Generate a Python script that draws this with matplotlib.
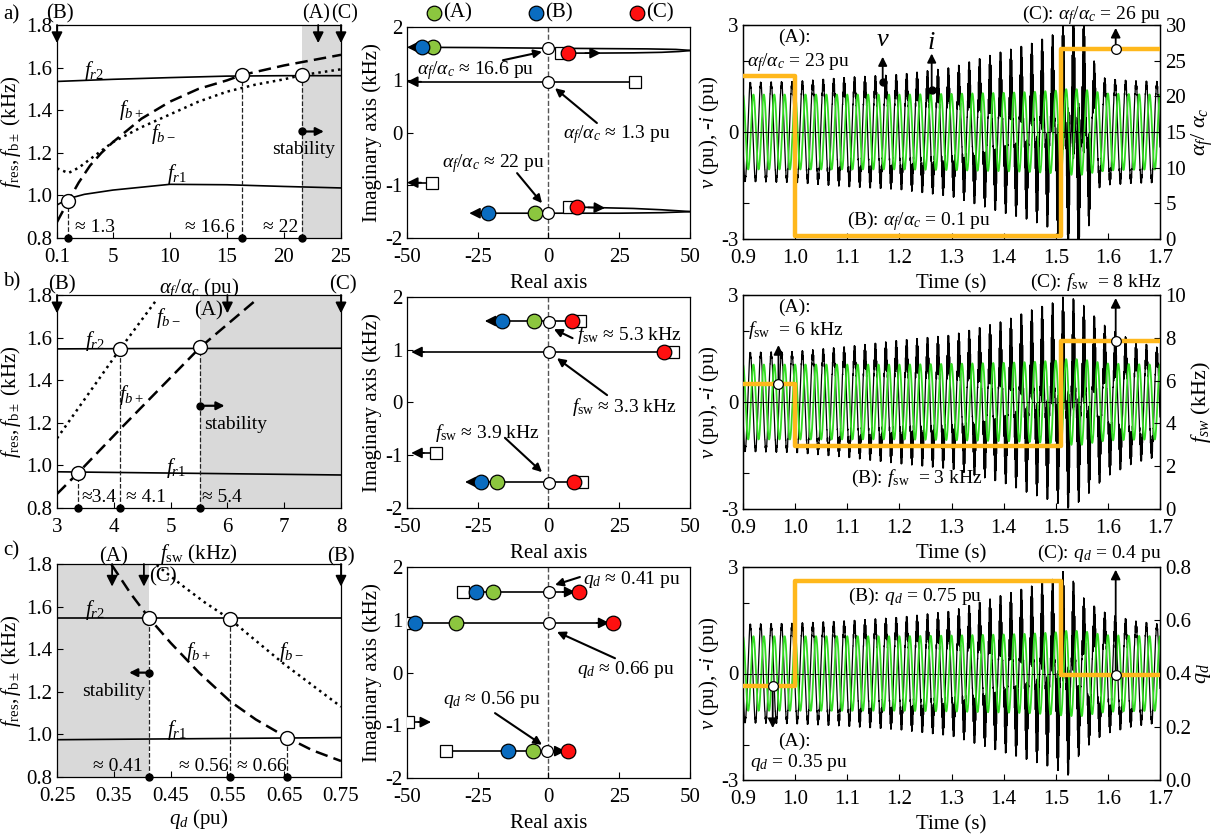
import numpy as np
import matplotlib
matplotlib.use('Agg')
import matplotlib.pyplot as plt

# 字体: Times 风格
plt.rcParams['font.family'] = ['Liberation Serif', 'DejaVu Serif']
plt.rcParams['mathtext.fontset'] = 'custom'
plt.rcParams['mathtext.rm'] = 'Liberation Serif'
plt.rcParams['mathtext.it'] = 'Liberation Serif:italic'
plt.rcParams['mathtext.bf'] = 'Liberation Serif:bold'
plt.rcParams['axes.unicode_minus'] = False
plt.rcParams['font.size'] = 14
plt.rcParams['xtick.direction'] = 'in'
plt.rcParams['ytick.direction'] = 'in'
plt.rcParams['axes.linewidth'] = 0.9

W, H = 1231, 836
GREEN = '#8cc63f'
BLUE = '#0a6cc0'
RED = '#ff1010'
ORANGE = '#ffb81c'
WAVE_GREEN = '#33dd22'
SHADE = '#d9d9d9'

# ================= 左列数据 =================
# a) alpha_f / alpha_c
a_fr2_x = [0.1, 5, 10, 15, 20, 25]
a_fr2_y = [1.535, 1.545, 1.553, 1.56, 1.562, 1.562]
a_fr1_x = [0.1, 1.1, 2.5, 5, 10, 15, 20, 25]
a_fr1_y = [0.955, 0.985, 1.005, 1.025, 1.052, 1.05, 1.042, 1.035]
a_fbp_x = [0.1, 1.1, 2, 3, 4, 5, 7.5, 10, 12.5, 15, 16.3, 20, 25]
a_fbp_y = [0.875, 0.975, 1.06, 1.14, 1.2, 1.25, 1.36, 1.44, 1.5, 1.54, 1.565, 1.61, 1.66]
a_fbm_x = [0.1, 1.1, 2, 3, 4, 5, 7.5, 10, 12.5, 15, 17.5, 20, 21.6, 25]
a_fbm_y = [1.127, 1.105, 1.13, 1.17, 1.21, 1.25, 1.32, 1.38, 1.44, 1.487, 1.52, 1.545, 1.565, 1.592]
a_cross_x = [1.1, 16.3, 21.6]
a_cross_y = [0.975, 1.565, 1.567]
a_cross_txt = ['≈ 1.3', '≈ 16.6', '≈ 22']
a_cross_txt_x = [1.7, 11.3, 18.2]
a_xticks = [0.1, 5, 10, 15, 20, 25]
a_xticklabels = ['0.1', '5', '10', '15', '20', '25']

# b) f_sw
b_fr2_x = [3, 5, 8]
b_fr2_y = [1.547, 1.549, 1.55]
b_fr1_x = [3, 5, 8]
b_fr1_y = [0.97, 0.964, 0.955]
b_fbp_x = [3, 3.375, 4.11, 5.52, 6.52]
b_fbp_y = [0.866, 0.966, 1.17, 1.554, 1.78]
b_fbm_x = [3, 4.11, 4.76]
b_fbm_y = [1.127, 1.546, 1.78]
b_cross_x = [3.375, 4.11, 5.52]
b_cross_y = [0.966, 1.546, 1.554]
b_cross_txt = ['≈3.4', '≈ 4.1', '≈ 5.4']
b_cross_txt_x = [3.43, 4.21, 5.55]
b_xticks = [3, 4, 5, 6, 7, 8]
b_xticklabels = ['3', '4', '5', '6', '7', '8']

# c) q_d
c_fr2_x = [0.25, 0.5, 0.75]
c_fr2_y = [1.548, 1.548, 1.548]
c_fr1_x = [0.25, 0.5, 0.75]
c_fr1_y = [0.975, 0.98, 0.985]
c_fbp_x = [0.346, 0.38, 0.4125, 0.45, 0.5, 0.555, 0.6, 0.655, 0.7, 0.75]
c_fbp_y = [1.797, 1.66, 1.545, 1.43, 1.29, 1.155, 1.07, 0.985, 0.925, 0.875]
c_fbm_x = [0.4255, 0.47, 0.51, 0.555, 0.6, 0.65, 0.7, 0.75]
c_fbm_y = [1.795, 1.70, 1.62, 1.54, 1.44, 1.33, 1.23, 1.13]
c_cross_x = [0.4125, 0.555, 0.655]
c_cross_y = [1.545, 1.54, 0.985]
c_cross_txt = ['≈ 0.41', '≈ 0.56', '≈ 0.66']
c_cross_txt_x = [0.314, 0.464, 0.567]
c_xticks = [0.25, 0.35, 0.45, 0.55, 0.65, 0.75]
c_xticklabels = ['0.25', '0.35', '0.45', '0.55', '0.65', '0.75']

# ================= 中列根轨迹数据 =================
# a)
la_lines = [([4.4, 16, 30, 40, 46, 50.5], [1.505, 1.505, 1.51, 1.52, 1.535, 1.555]),
            ([50.5, 45, 35, 20, 0, -25, -46], [1.555, 1.575, 1.585, 1.59, 1.598, 1.61, 1.615]),
            ([30.6, -46], [0.963, 0.963]),
            ([-41.3, -46], [-0.95, -0.95]),
            ([7.4, 18, 30, 40, 50.5], [-1.41, -1.425, -1.44, -1.465, -1.5]),
            ([50.5, 40, 25, 10, 0, -21, -24], [-1.5, -1.52, -1.53, -1.53, -1.53, -1.53, -1.53])]
la_arrows = [(13, 1.505, 18.5, 1.505), (-45, 1.615, -50, 1.615), (-45, 0.963, -50, 0.963),
             (-45, -0.95, -50, -0.95), (14, -1.42, 20, -1.43), (-23, -1.53, -28, -1.53)]
la_sq_x = [4.4, 30.6, -41.3, 7.4]
la_sq_y = [1.505, 0.963, -0.95, -1.41]
la_white_x = [0, 0, 0]
la_white_y = [1.598, 0.963, -1.53]
la_green_x = [-40.8, -4.8]
la_green_y = [1.615, -1.53]
la_blue_x = [-44.8, -21.3]
la_blue_y = [1.615, -1.53]
la_red_x = [7.0, 10.0]
la_red_y = [1.5, -1.41]

# b)
lb_lines = [([11.1, -19], [1.545, 1.545]), ([44, -45], [0.957, 0.957]),
            ([-39.8, -45], [-0.957, -0.957]), ([11.8, -26], [-1.507, -1.507])]
lb_arrows = [(-18, 1.545, -22.5, 1.545), (-44, 0.957, -48.5, 0.957),
             (-44, -0.957, -48.5, -0.957), (-25, -1.507, -29.5, -1.507)]
lb_sq_x = [11.1, 44, -39.8, 11.8]
lb_sq_y = [1.545, 0.957, -0.957, -1.507]
lb_white_x = [0.2, 0.2, 0.2]
lb_white_y = [1.53, 0.957, -1.53]
lb_green_x = [-5.1, -18.2]
lb_green_y = [1.545, -1.507]
lb_blue_x = [-16.4, -23.9]
lb_blue_y = [1.545, -1.507]
lb_red_x = [8.3, 40.8, 9.0]
lb_red_y = [1.545, 0.957, -1.507]

# c)
lc_lines = [([-30.2, 6], [1.526, 1.526]), ([-49.5, 18], [0.94, 0.94]),
            ([-49.5, -45], [-0.94, -0.94]), ([-36.2, 3], [-1.49, -1.49])]
lc_arrows = [(5, 1.526, 9.5, 1.526), (17, 0.94, 21.5, 0.94),
             (-46, -0.94, -41.5, -0.94), (2, -1.49, 6, -1.49)]
lc_sq_x = [-30.2, -49.5, -49.5, -36.2]
lc_sq_y = [1.526, 0.94, -0.94, -1.49]
lc_white_x = [0.2, 0.2, -0.5]
lc_white_y = [1.526, 0.94, -1.49]
lc_green_x = [-19.6, -32.7, -5.5]
lc_green_y = [1.526, 0.94, -1.49]
lc_blue_x = [-25.6, -47.2, -14.3]
lc_blue_y = [1.526, 0.94, -1.49]
lc_red_x = [10.8, 22.8, 6.9]
lc_red_y = [1.526, 0.94, -1.49]

# ================= 右列时域数据 =================
F0 = 50.0          # 基波 (Hz)
FH = 1050.0        # 谐振分量 (Hz)
V1 = 1.35          # 电压基波幅值
ENV_T = [0.9, 1.0, 1.1, 1.2, 1.3, 1.4, 1.45, 1.5, 1.52, 1.55, 1.58, 1.6, 1.65, 1.7]
env_a = [0.05, 0.08, 0.2, 0.28, 0.48, 0.95, 1.15, 1.45, 2.0, 2.2, 0.25, 0.15, 0.1, 0.08]
env_b = [0.05, 0.08, 0.22, 0.4, 0.55, 0.95, 1.25, 1.5, 1.7, 1.45, 1.0, 0.75, 0.38, 0.18]
env_c = [0.05, 0.08, 0.15, 0.25, 0.43, 0.9, 1.13, 1.37, 1.65, 0.85, 0.5, 0.35, 0.15, 0.05]
green_env = [1.05, 1.05, 1.05, 1.05, 1.07, 1.1, 1.12, 1.16, 1.2, 1.2, 1.12, 1.08, 1.06, 1.05]
STEP_T = [0.9, 1.0, 1.51, 1.7]
step_a = [22.8, 0.45, 26.6, 26.6]
step_b = [5.85, 2.95, 7.85, 7.85]
step_c = [0.352, 0.746, 0.396, 0.396]


def px_axes(fig, x0, y0, x1, y1):
    return fig.add_axes([x0 / W, 1 - y1 / H, (x1 - x0) / W, (y1 - y0) / H])


def arrow(ax, x0, y0, x1, y1, lw=1.3, ms=16, transform=None):
    kw = {}
    if transform is not None:
        kw = dict(xycoords=transform, textcoords=transform)
    ax.annotate('', xy=(x1, y1), xytext=(x0, y0),
                arrowprops=dict(arrowstyle='-|>', color='k', lw=lw, mutation_scale=ms,
                                shrinkA=0, shrinkB=0),
                annotation_clip=False, **kw)


# ========= 左列 =========
def draw_left(ax, xlim, xticks, xticklabels, fr1, fr2, fbp, fbm, cx, cy, ctxt, ctxt_x, shade):
    ax.axvspan(shade[0], shade[1], color=SHADE, lw=0, zorder=0)
    ax.plot(fr2[0], fr2[1], 'k-', lw=1.2)
    ax.plot(fr1[0], fr1[1], 'k-', lw=1.2)
    ax.plot(fbp[0], fbp[1], 'k--', lw=1.8, dashes=(5, 2.5))
    ax.plot(fbm[0], fbm[1], 'k:', lw=1.8)
    ax.vlines(cx, 0.8, cy, colors='#222222', linestyles='--', lw=0.9)
    ax.plot(cx, cy, 'o', mfc='white', mec='k', ms=10, mew=1, zorder=5)
    ax.plot(cx, [0.8] * len(cx), 'o', color='k', ms=5, clip_on=False, zorder=6)
    for x, s in zip(ctxt_x, ctxt):
        ax.text(x, 0.848, s, ha='left', va='center', fontsize=14)
    ax.set_xlim(xlim)
    ax.set_ylim(0.8, 1.8)
    ax.set_xticks(xticks)
    ax.set_xticklabels(xticklabels)
    ax.set_yticks([0.8, 1.0, 1.2, 1.4, 1.6, 1.8])
    ax.set_yticklabels(['0.8', '1.0', '1.2', '1.4', '1.6', '1.8'])
    ax.tick_params(labelsize=15, length=4)
    ax.tick_params(axis='x', pad=7)
    ax.set_ylabel(r'$f_{\rm res}, f_{\rm b\pm}$ (kHz)', fontsize=15, labelpad=2)


def top_arrows(ax, xs, tip):
    for x in xs:
        arrow(ax, x, 1.8, x, tip)


fig = plt.figure(figsize=(W / 100, H / 100), dpi=100)

# a)
ax = px_axes(fig, 57, 25, 341, 238)
draw_left(ax, (0.1, 25), a_xticks, a_xticklabels, (a_fr1_x, a_fr1_y), (a_fr2_x, a_fr2_y),
          (a_fbp_x, a_fbp_y), (a_fbm_x, a_fbm_y), a_cross_x, a_cross_y, a_cross_txt, a_cross_txt_x,
          (21.6, 25))
ax.set_xlabel(r'$\alpha_f/\alpha_c$ (pu)', fontsize=15, labelpad=7)
ax.text(3.3, 1.585, r'$f_{r2}$', ha='center', va='center', fontsize=15)
ax.text(6.65, 1.40, r'$f_{b+}$', ha='center', va='center', fontsize=15)
ax.text(9.4, 1.29, r'$f_{b-}$', ha='center', va='center', fontsize=15)
ax.text(10.6, 1.10, r'$f_{r1}$', ha='center', va='center', fontsize=15)
ax.text(21.7, 1.215, 'stability', ha='center', va='center', fontsize=14)
ax.plot(21.6, 1.30, 'o', color='k', ms=5)
arrow(ax, 21.6, 1.30, 23.5, 1.30, lw=1.6, ms=12)
top_arrows(ax, [0.1, 23, 25], 1.715)
ax.text(0.4, 1.85, '(B)', ha='center', va='center', fontsize=15)
ax.text(22.85, 1.85, '(A)', ha='center', va='center', fontsize=14.5)
ax.text(25.35, 1.85, '(C)', ha='center', va='center', fontsize=14.5)

# b)
ax = px_axes(fig, 57, 295, 341, 508)
draw_left(ax, (3, 8), b_xticks, b_xticklabels, (b_fr1_x, b_fr1_y), (b_fr2_x, b_fr2_y),
          (b_fbp_x, b_fbp_y), (b_fbm_x, b_fbm_y), b_cross_x, b_cross_y, b_cross_txt, b_cross_txt_x,
          (5.52, 8))
ax.set_xlabel(r'$f_{\rm sw}$ (kHz)', fontsize=15, labelpad=4)
ax.text(3.67, 1.585, r'$f_{r2}$', ha='center', va='center', fontsize=15)
ax.text(4.96, 1.69, r'$f_{b-}$', ha='center', va='center', fontsize=15)
ax.text(4.31, 1.33, r'$f_{b+}$', ha='center', va='center', fontsize=15)
ax.text(5.1, 0.99, r'$f_{r1}$', ha='center', va='center', fontsize=15)
ax.text(6.15, 1.19, 'stability', ha='center', va='center', fontsize=14)
ax.plot(5.52, 1.28, 'o', color='k', ms=5)
arrow(ax, 5.52, 1.28, 5.95, 1.28, lw=1.6, ms=12)
top_arrows(ax, [3, 6, 8], 1.714)
ax.text(3.08, 1.847, '(B)', ha='center', va='center', fontsize=15)
ax.text(5.66, 1.725, '(A)', ha='center', va='center', fontsize=15)
ax.text(8.04, 1.847, '(C)', ha='center', va='center', fontsize=15)

# c)
ax = px_axes(fig, 57, 564, 341, 777)
draw_left(ax, (0.25, 0.75), c_xticks, c_xticklabels, (c_fr1_x, c_fr1_y), (c_fr2_x, c_fr2_y),
          (c_fbp_x, c_fbp_y), (c_fbm_x, c_fbm_y), c_cross_x, c_cross_y, c_cross_txt, c_cross_txt_x,
          (0.25, 0.4125))
ax.set_xlabel(r'$q_d$ (pu)', fontsize=15, labelpad=1)
ax.text(0.317, 1.585, r'$f_{r2}$', ha='center', va='center', fontsize=15)
ax.text(0.499, 1.388, r'$f_{b+}$', ha='center', va='center', fontsize=15)
ax.text(0.663, 1.388, r'$f_{b-}$', ha='center', va='center', fontsize=15)
ax.text(0.461, 1.02, r'$f_{r1}$', ha='center', va='center', fontsize=15)
ax.text(0.35, 1.2, 'stability', ha='center', va='center', fontsize=14)
ax.plot(0.4125, 1.29, 'o', color='k', ms=5)
arrow(ax, 0.4125, 1.29, 0.377, 1.29, lw=1.6, ms=12)
top_arrows(ax, [0.347, 0.403, 0.75], 1.694)
ax.text(0.349, 1.834, '(A)', ha='center', va='center', fontsize=15)
ax.text(0.437, 1.74, '(C)', ha='center', va='center', fontsize=15)
ax.text(0.75, 1.834, '(B)', ha='center', va='center', fontsize=15)

for lab, yp in [('a)', 15), ('b)', 282), ('c)', 551)]:
    fig.text(3 / W, 1 - yp / H, lab, ha='left', va='center', fontsize=15)


# ========= 中列 =========
def draw_locus(ax, lines, arrows, sq, white, green, blue, red):
    ax.axvline(0, color='#555555', ls='--', lw=1.0, zorder=1)
    for xs, ys in lines:
        ax.plot(xs, ys, 'k-', lw=1.2, zorder=2)
    for x0, y0, x1, y1 in arrows:
        arrow(ax, x0, y0, x1, y1, lw=1.2, ms=16)
    ax.plot(sq[0], sq[1], 's', mfc='white', mec='k', ms=8.5, mew=0.9, zorder=4)
    for (xs, ys), col in [(green, GREEN), (blue, BLUE), (red, RED)]:
        ax.plot(xs, ys, 'o', mfc=col, mec='k', ms=10.5, mew=0.9, zorder=5)
    ax.plot(white[0], white[1], 'o', mfc='white', mec='k', ms=8.5, mew=0.9, zorder=6)
    ax.set_xlim(-50, 50)
    ax.set_ylim(-2, 2)
    ax.set_xticks([-50, -25, 0, 25, 50])
    ax.set_yticks([-2, -1, 0, 1, 2])
    ax.tick_params(labelsize=15, length=4)
    ax.tick_params(axis='x', pad=7)
    ax.set_xlabel('Real axis', fontsize=15, labelpad=5)
    ax.set_ylabel('Imaginary axis (kHz)', fontsize=15, labelpad=2)


ax = px_axes(fig, 407, 27, 690, 238)
draw_locus(ax, la_lines, la_arrows, (la_sq_x, la_sq_y), (la_white_x, la_white_y),
           (la_green_x, la_green_y), (la_blue_x, la_blue_y), (la_red_x, la_red_y))
for cx, tx, col, lab in [(-40.5, -37.3, GREEN, '(A)'), (-4.5, -1.2, BLUE, '(B)'), (31.4, 34.5, RED, '(C)')]:
    ax.plot(cx, 2.26, 'o', mfc=col, mec='k', ms=10.5, mew=0.9, clip_on=False)
    ax.text(tx, 2.26, lab, ha='left', va='center', fontsize=15)
ax.text(-46.5, 1.17, r'$\alpha_f/\alpha_c$ ≈ 16.6 pu', ha='left', va='center', fontsize=14)
arrow(ax, -16.1, 1.37, -2.3, 1.53, lw=1.5, ms=12)
ax.text(5.1, -0.03, r'$\alpha_f/\alpha_c$ ≈ 1.3 pu', ha='left', va='center', fontsize=14)
arrow(ax, 17.1, 0.18, 2.3, 0.84, lw=1.5, ms=12)
ax.text(-37.6, -0.58, r'$\alpha_f/\alpha_c$ ≈ 22 pu', ha='left', va='center', fontsize=14)
arrow(ax, -11.1, -0.77, -2.3, -1.34, lw=1.5, ms=12)

ax = px_axes(fig, 407, 297, 690, 508)
draw_locus(ax, lb_lines, lb_arrows, (lb_sq_x, lb_sq_y), (lb_white_x, lb_white_y),
           (lb_green_x, lb_green_y), (lb_blue_x, lb_blue_y), (lb_red_x, lb_red_y))
ax.text(10.1, 1.28, r'$f_{\rm sw}$ ≈ 5.3 kHz', ha='left', va='center', fontsize=14)
arrow(ax, 8.5, 1.22, 1.9, 1.39, lw=1.5, ms=12)
ax.text(8.3, -0.085, r'$f_{\rm sw}$ ≈ 3.3 kHz', ha='left', va='center', fontsize=14)
arrow(ax, 20.7, 0.14, 3.0, 0.84, lw=1.5, ms=12)
ax.text(-40.1, -0.58, r'$f_{\rm sw}$ ≈ 3.9 kHz', ha='left', va='center', fontsize=14)
arrow(ax, -15.4, -0.67, -2.3, -1.32, lw=1.5, ms=12)

ax = px_axes(fig, 407, 567, 690, 778)
draw_locus(ax, lc_lines, lc_arrows, (lc_sq_x, lc_sq_y), (lc_white_x, lc_white_y),
           (lc_green_x, lc_green_y), (lc_blue_x, lc_blue_y), (lc_red_x, lc_red_y))
ax.text(12.2, 1.77, r'$q_d$ ≈ 0.41 pu', ha='left', va='center', fontsize=14)
arrow(ax, 11.1, 1.81, 2.3, 1.66, lw=1.5, ms=12)
ax.text(10.1, 0.05, r'$q_d$ ≈ 0.66 pu', ha='left', va='center', fontsize=14)
arrow(ax, 23.5, 0.27, 3.0, 0.77, lw=1.5, ms=12)
ax.text(-37.3, -0.52, r'$q_d$ ≈ 0.56 pu', ha='left', va='center', fontsize=14)
arrow(ax, -18.9, -0.77, -2.3, -1.37, lw=1.5, ms=12)


# ========= 右列 =========
def draw_right(ax, env, step_vals, ylim2, yticks2, yticklabels2, ylab2):
    t = np.linspace(0.9, 1.7, 40001)
    w = 2 * np.pi * F0
    ph = np.cos(w * (t - 0.004))
    v = -V1 * ph + np.interp(t, ENV_T, env) * ph ** 2 * np.sin(2 * np.pi * FH * t)
    i = np.interp(t, ENV_T, green_env) * np.cos(w * t)
    ax.plot(t, v, color='k', lw=0.9, zorder=2)
    ax.plot(t, i, color=WAVE_GREEN, lw=1.3, zorder=3)
    ax.axhline(0, color='k', ls='--', lw=0.7, zorder=4)
    ax.set_xlim(0.9, 1.7)
    ax.set_ylim(-3, 3)
    ax.set_xticks([0.9, 1.0, 1.1, 1.2, 1.3, 1.4, 1.5, 1.6, 1.7])
    ax.set_xticklabels(['0.9', '1.0', '1.1', '1.2', '1.3', '1.4', '1.5', '1.6', '1.7'])
    ax.set_yticks([-3, -2, 0, 2, 3])
    ax.set_yticklabels(['-3', '', '0', '', '3'])
    ax.tick_params(labelsize=15, length=4)
    ax.tick_params(axis='x', pad=7)
    ax.set_xlabel('Time (s)', fontsize=15, labelpad=5)
    ax.set_ylabel(r'$v$ (pu), -$i$ (pu)', fontsize=15, labelpad=0)
    ax2 = ax.twinx()
    ax2.plot(STEP_T, step_vals, drawstyle='steps-post', color=ORANGE, lw=3.2, zorder=5)
    ax2.set_ylim(ylim2)
    ax2.set_yticks(yticks2)
    ax2.set_yticklabels(yticklabels2)
    ax2.tick_params(labelsize=15, length=4, direction='in', pad=4)
    ax2.set_ylabel(ylab2, fontsize=16, rotation=90, labelpad=2)
    return ax2


def marker_arrow(ax2, t, y0, y1):
    arrow(ax2, t, y0, t, y1, lw=1.3, ms=14)
    ax2.plot(t, y0, 'o', mfc='white', mec='k', ms=7, mew=0.9, zorder=8, clip_on=False)


# a)
ax = px_axes(fig, 743, 25, 1160, 239)
ax2 = draw_right(ax, env_a, step_a, (0, 30), [0, 5, 10, 15, 20, 25, 30],
                 ['0', '5', '10', '15', '20', '25', '30'], r'$\alpha_f/\ \alpha_c$')
td = ax.transData
ax2.text(0.967, 2.65, '(A):', transform=td, ha='left', va='center', fontsize=14)
ax2.text(0.908, 1.96, r'$\alpha_f/\alpha_c$ = 23 pu', transform=td, ha='left', va='center', fontsize=14)
ax2.text(1.168, 2.58, r'$v$', transform=td, ha='center', va='center', fontsize=19)
ax2.text(1.262, 2.5, r'$i$', transform=td, ha='center', va='center', fontsize=19)
arrow(ax2, 1.168, 1.41, 1.168, 2.11, lw=1.3, ms=13, transform=td)
arrow(ax2, 1.262, 1.18, 1.262, 2.2, lw=1.3, ms=13, transform=td)
ax2.plot([1.168, 1.262], [1.41 / 6 * 30 + 15, 1.18 / 6 * 30 + 15], 'o', color='k', ms=5, zorder=8)
ax2.text(1.099, -2.51, r'(B): $\alpha_f/\alpha_c$ = 0.1 pu', transform=td, ha='left', va='center', fontsize=14)
ax2.text(1.702, 3.28, r'(C): $\alpha_f/\alpha_c$ = 26 pu', transform=td, ha='right', va='center', fontsize=14)
marker_arrow(ax2, 1.615, 26.6, 29.6)

# b)
ax = px_axes(fig, 743, 295, 1160, 509)
ax2 = draw_right(ax, env_b, step_b, (0, 10), [0, 2, 4, 6, 8, 10],
                 ['0', '2', '4', '6', '8', '10'], r'$f_{sw}$ (kHz)')
td = ax.transData
ax2.text(0.967, 2.66, '(A):', transform=td, ha='left', va='center', fontsize=14)
ax2.text(0.91, 2.02, r'$f_{\rm sw}$  = 6 kHz', transform=td, ha='left', va='center', fontsize=14)
ax2.text(1.108, -2.14, r'(B): $f_{\rm sw}$  = 3 kHz', transform=td, ha='left', va='center', fontsize=14)
ax2.text(1.702, 3.34, r'(C): $f_{\rm sw}$  = 8 kHz', transform=td, ha='right', va='center', fontsize=14)
marker_arrow(ax2, 0.968, 5.85, 7.66)
marker_arrow(ax2, 1.615, 7.85, 9.86)

# c)
ax = px_axes(fig, 743, 567, 1160, 780)
ax2 = draw_right(ax, env_c, step_c, (0, 0.8), [0, 0.2, 0.4, 0.6, 0.8],
                 ['0.0', '0.2', '0.4', '0.6', '0.8'], r'$q_d$')
td = ax.transData
ax2.text(1.702, 3.39, r'(C): $q_d$ = 0.4 pu', transform=td, ha='right', va='center', fontsize=14)
ax2.text(1.101, 2.16, r'(B): $q_d$ = 0.75 pu', transform=td, ha='left', va='center', fontsize=14)
ax2.text(0.967, -1.92, '(A):', transform=td, ha='left', va='center', fontsize=14)
ax2.text(0.913, -2.52, r'$q_d$ = 0.35 pu', transform=td, ha='left', va='center', fontsize=14)
marker_arrow(ax2, 1.615, 0.396, 0.79)
marker_arrow(ax2, 0.957, 0.352, 0.195)

fig.savefig('out.png', dpi=100)
